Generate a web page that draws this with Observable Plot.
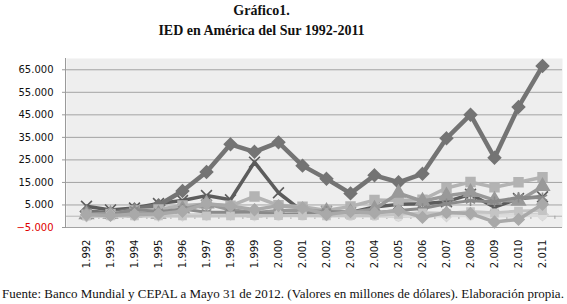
<!DOCTYPE html>
<html>
<head>
<meta charset="utf-8">
<script src="https://cdn.jsdelivr.net/npm/d3@7"></script>
<script src="https://cdn.jsdelivr.net/npm/@observablehq/plot@0.6"></script>
<style>
  html, body { margin: 0; padding: 0; background: #fff; }
  #wrap { width: 567px; position: relative; }
  #title { width: 523px; height: 44px; margin: 0; padding-top: 1px; box-sizing: border-box; text-align: center;
           font-family: "Liberation Serif", serif; font-weight: bold; font-size: 14px; line-height: 20px; color: #111; }
  #caption { margin: 6px 0 0 0; font-family: "Liberation Serif", serif; font-size: 13px; line-height: 16px;
             color: #111; white-space: nowrap; padding-left: 2px; }
  svg { display: block; }
</style>
</head>
<body>
<div id="wrap">
  <div id="title">Gráfico1.<br>IED en América del Sur 1992-2011</div>
  <div id="chart"></div>
  <div id="caption">Fuente: Banco Mundial y CEPAL a Mayo 31 de 2012. (Valores en millones de dólares). Elaboración propia.</div>
</div>
<script>
const years = [1992,1993,1994,1995,1996,1997,1998,1999,2000,2001,2002,2003,2004,2005,2006,2007,2008,2009,2010,2011];
const yTicks = [65000,55000,45000,35000,25000,15000,5000];
const yTicksNeg = [-5000];

const Argentina = [4431,2793,3635,5610,6949,9160,7291,23988,10418,2166,2149,1652,4125,5265,5537,6473,9726,4017,7848,8600];
const Bolivia   = [93,124,130,393,474,731,949,1011,734,703,674,195,83,-238,278,363,509,423,643,859];
const Brasil    = [2061,1292,3072,4859,11200,19650,31913,28576,32779,22457,16590,10144,18146,15066,18822,34585,45058,25949,48506,66660];
const Chile     = [699,1034,2583,2957,4815,5271,4628,8761,4860,4200,2550,4307,7173,6984,7298,12534,15150,12874,15095,17299];
const Colombia  = [729,959,1446,968,3112,5562,2829,1508,2436,2542,2134,1720,3116,10252,6656,9049,10596,7137,6758,13234];
const Ecuador   = [178,474,576,452,500,724,870,648,720,1330,783,872,837,493,271,194,1058,308,163,640];
const Paraguay  = [137,111,138,103,149,236,342,95,104,84,10,27,38,53,173,202,209,95,228,296];
const Peru      = [150,687,3108,2048,3226,1781,1812,1905,810,1144,2156,1335,1599,2579,3467,5491,6924,6431,8455,8233];
const Uruguay   = [0,102,155,157,137,126,164,235,274,297,194,416,332,847,1493,1329,2106,1529,2289,2528];
const Venezuela = [629,372,813,985,2183,5536,4495,2895,4701,3683,782,2040,1483,2589,-508,1620,1195,-2536,-1404,5302];

const seriesList = [
  ["Argentina", Argentina], ["Bolivia", Bolivia], ["Brasil", Brasil], ["Chile", Chile],
  ["Colombia", Colombia], ["Ecuador", Ecuador], ["Paraguay", Paraguay], ["Perú", Peru],
  ["Uruguay", Uruguay], ["Venezuela", Venezuela]
];

const styles = {
  "Argentina": {color: "#5c5c5c", symbol: "times",    r: 5,   w: 3.5},
  "Bolivia":   {color: "#cfcfcf", symbol: "circle",   r: 4,   w: 3},
  "Brasil":    {color: "#747474", symbol: "diamond2", r: 5.5, w: 4.5},
  "Chile":     {color: "#b3b3b3", symbol: "square",   r: 5,   w: 3.5},
  "Colombia":  {color: "#999999", symbol: "triangle", r: 5,   w: 3.5},
  "Ecuador":   {color: "#d2d2d2", symbol: "diamond2", r: 5,   w: 3},
  "Paraguay":  {color: "#dcdcdc", symbol: "circle",   r: 4,   w: 3},
  "Perú":      {color: "#8a8a8a", symbol: "asterisk", r: 5,   w: 3},
  "Uruguay":   {color: "#c4c4c4", symbol: "square",   r: 4,   w: 3},
  "Venezuela": {color: "#a9a9a9", symbol: "diamond2", r: 5,   w: 3.5}
};

const table = [];
for (const [name, vals] of seriesList) {
  vals.forEach((v, i) => table.push({pais: name, year: years[i], value: v}));
}

const fmt = v => d3.format(",")(v).replace(/,/g, ".");

const leftAxisLine = (index, scales, values, dims) => {
  const ns = "http://www.w3.org/2000/svg";
  const l = document.createElementNS(ns, "line");
  const x = dims.marginLeft - 0.5;
  l.setAttribute("x1", x); l.setAttribute("x2", x);
  l.setAttribute("y1", dims.marginTop); l.setAttribute("y2", dims.height - dims.marginBottom);
  l.setAttribute("stroke", "#9a9a9a");
  return l;
};

const marks = [
  Plot.frame({fill: "#eeeeee", stroke: null}),
  Plot.ruleY(yTicks.concat(yTicksNeg), {stroke: "#a3a3a3", strokeWidth: 1}),
  Plot.ruleY([0], {stroke: "#b8b8b8", strokeWidth: 1}),
  Plot.ruleX(years, {x: d => d, y1: 0, y2: -1400, dx: 12.4, stroke: "#a0a0a0", strokeWidth: 1}),
  leftAxisLine
];

for (const [name] of seriesList) {
  const s = styles[name];
  const data = table.filter(d => d.pais === name);
  marks.push(Plot.line(data, {x: "year", y: "value", stroke: s.color, strokeWidth: s.w, strokeLinejoin: "round", strokeLinecap: "round"}));
  marks.push(Plot.dot(data, {x: "year", y: "value", symbol: () => s.symbol, r: s.r, fill: s.color, stroke: s.color, strokeWidth: 1.6}));
}

marks.push(
  Plot.axisY({ticks: yTicks, tickSize: 4, tickPadding: 9, tickFormat: fmt, stroke: "#9a9a9a", fill: "#111", fontSize: 10, label: null}),
  Plot.axisY({ticks: yTicksNeg, tickSize: 4, tickPadding: 9, tickFormat: fmt, stroke: "#9a9a9a", fill: "#e00000", fontSize: 10, label: null}),
  Plot.axisX({tickSize: 0, tickPadding: 12, tickRotate: -90, tickFormat: fmt, fill: "#111", fontSize: 10, label: null})
);

const chart = Plot.plot({
  width: 567,
  height: 236,
  marginTop: 14,
  marginBottom: 53,
  marginLeft: 66,
  marginRight: 5,
  x: {type: "point", domain: years, padding: 0.5},
  y: {domain: [-5000, 70000]},
  symbol: {type: "identity"},
  style: {fontFamily: "DejaVu Sans, Verdana, sans-serif", fontSize: "10px", background: "transparent"},
  marks
});
document.getElementById("chart").appendChild(chart);
</script>
</body>
</html>
